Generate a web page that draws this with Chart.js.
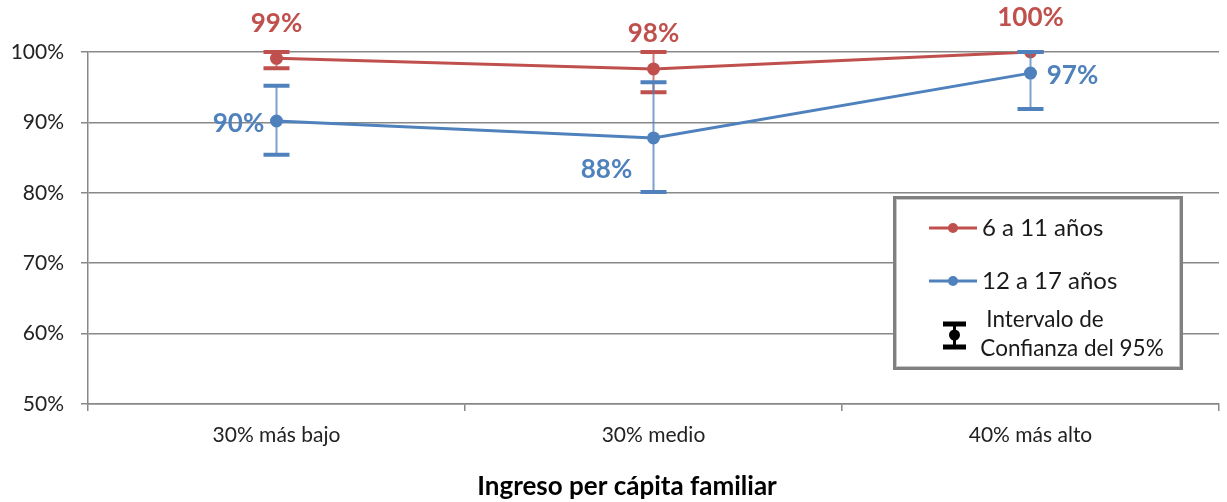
<!DOCTYPE html>
<html><head><meta charset="utf-8">
<script src="https://cdn.jsdelivr.net/npm/chart.js@4/dist/chart.umd.min.js"></script>
<style>html,body{margin:0;padding:0;background:#fff}#wrap{width:1227px;height:502px;position:relative}</style>
</head><body><div id="wrap"><canvas id="c" width="1227" height="502"></canvas></div>
<script>
const categories = ['30% más bajo', '30% medio', '40% más alto'];
const seriesNames = ['6 a 11 años', '12 a 17 años'];
const values611 = [99.1, 97.6, 100];
const low611 = [97.7, 94.3, 100];
const high611 = [100, 100, 100];
const labels611 = ['99%', '98%', '100%'];
const values1217 = [90.2, 87.8, 97.0];
const low1217 = [85.4, 80.1, 91.9];
const high1217 = [95.2, 95.7, 100];
const labels1217 = ['90%', '88%', '97%'];
const yTicks = [50, 60, 70, 80, 90, 100];
const xTitle = 'Ingreso per cápita familiar';
const legendCI = ['Intervalo de', 'Confianza del 95%'];

const RED = '#C0504D', BLUE = '#4F81BD';
const FONT = 'Lato, "Open Sans", sans-serif';

const errLows = [low611, low1217], errHighs = [high611, high1217];
const labelSets = [labels611, labels1217];
const labelPos = [
  [[0, -35, 'center'], [0, -35, 'center'], [0, -34, 'center']],
  [[-38, 3, 'center'], [-47, 32, 'center'], [42, 2, 'center']]
];

const errPlugin = {
  id: 'errbars',
  afterDatasetsDraw(chart) {
    const ctx = chart.ctx, y = chart.scales.y;
    chart.data.datasets.forEach((ds, di) => {
      const meta = chart.getDatasetMeta(di);
      const col = ds.borderColor;
      meta.data.forEach((pt, i) => {
        const yl = y.getPixelForValue(errLows[di][i]);
        const yh = y.getPixelForValue(errHighs[di][i]);
        ctx.save();
        ctx.strokeStyle = col;
        ctx.globalAlpha = 0.75;
        ctx.lineWidth = 2;
        ctx.beginPath(); ctx.moveTo(pt.x, yl); ctx.lineTo(pt.x, yh); ctx.stroke();
        ctx.globalAlpha = 1;
        ctx.lineWidth = 4;
        ctx.beginPath();
        ctx.moveTo(pt.x - 13, yl); ctx.lineTo(pt.x + 13, yl);
        ctx.moveTo(pt.x - 13, yh); ctx.lineTo(pt.x + 13, yh);
        ctx.stroke();
        ctx.restore();
      });
    });
    chart.data.datasets.forEach((ds, di) => {
      const meta = chart.getDatasetMeta(di);
      meta.data.forEach((pt, i) => {
        const p = labelPos[di][i];
        ctx.save();
        ctx.fillStyle = ds.borderColor;
        ctx.font = 'bold 26px ' + FONT;
        ctx.textAlign = p[2];
        ctx.textBaseline = 'middle';
        ctx.fillText(labelSets[di][i], pt.x + p[0], pt.y + p[1]);
        ctx.restore();
      });
    });
  },
  afterDraw(chart) {
    const ctx = chart.ctx;
    ctx.save();
    ctx.fillStyle = '#fff';
    ctx.fillRect(893, 196, 290, 174);
    ctx.strokeStyle = '#808080';
    ctx.lineWidth = 3;
    ctx.strokeRect(894.5, 197.5, 287, 171);
    ctx.strokeStyle = '#c8c8c8';
    ctx.lineWidth = 1;
    ctx.strokeRect(896.5, 199.5, 283, 167);
    const items = [[RED, 228], [BLUE, 281]];
    items.forEach((it, k) => {
      ctx.strokeStyle = it[0]; ctx.fillStyle = it[0];
      ctx.lineWidth = 3;
      ctx.beginPath(); ctx.moveTo(929, it[1]); ctx.lineTo(977, it[1]); ctx.stroke();
      ctx.beginPath(); ctx.arc(953, it[1], 5, 0, Math.PI * 2); ctx.fill();
      ctx.fillStyle = '#1a1a1a';
      ctx.font = '24px ' + FONT;
      ctx.textAlign = 'left'; ctx.textBaseline = 'middle';
      ctx.fillText(seriesNames[k], 982, it[1]);
    });
    ctx.strokeStyle = '#000'; ctx.fillStyle = '#000';
    ctx.lineWidth = 5;
    ctx.beginPath();
    ctx.moveTo(943, 324); ctx.lineTo(966, 324);
    ctx.moveTo(943, 347); ctx.lineTo(966, 347);
    ctx.stroke();
    ctx.lineWidth = 3;
    ctx.beginPath(); ctx.moveTo(954.5, 324); ctx.lineTo(954.5, 347); ctx.stroke();
    ctx.beginPath(); ctx.arc(954.5, 335, 5.5, 0, Math.PI * 2); ctx.fill();
    ctx.fillStyle = '#1a1a1a';
    ctx.font = '22.5px ' + FONT;
    ctx.textAlign = 'center'; ctx.textBaseline = 'middle';
    ctx.fillText(legendCI[0], 1045, 320);
    ctx.fillText(legendCI[1], 1072, 349);
    ctx.fillStyle = '#000';
    ctx.font = 'bold 26px ' + FONT;
    ctx.fillText(xTitle, 627, 487);
    ctx.restore();
  }
};

new Chart(document.getElementById('c'), {
  type: 'line',
  data: {
    labels: categories,
    datasets: [
      { label: seriesNames[0], data: values611, borderColor: RED, backgroundColor: RED, borderWidth: 3, pointRadius: 5, pointHoverRadius: 5, tension: 0 },
      { label: seriesNames[1], data: values1217, borderColor: BLUE, backgroundColor: BLUE, borderWidth: 3, pointRadius: 5, pointHoverRadius: 5, tension: 0 }
    ]
  },
  options: {
    responsive: false,
    animation: false,
    events: [],
    layout: { padding: { top: 52, right: 5, bottom: 0, left: 0 } },
    plugins: { legend: { display: false }, tooltip: { enabled: false } },
    scales: {
      x: {
        offset: true,
        grid: { offset: true, drawOnChartArea: false, color: '#888', tickLength: 7, lineWidth: 1.5 },
        border: { color: '#888', width: 1.5 },
        ticks: { color: '#222', font: { size: 21, family: FONT }, padding: 12 },
        afterFit(s) { s.height = 98; }
      },
      y: {
        min: 50, max: 100,
        afterBuildTicks(s) { s.ticks = yTicks.map(v => ({ value: v })); },
        grid: { color: '#888', tickLength: 7, lineWidth: 1.5 },
        border: { color: '#888', width: 1.5 },
        ticks: { color: '#222', font: { size: 21, family: FONT }, padding: 17, callback: v => v + '%' },
        afterFit(s) { s.width = 88; }
      }
    }
  },
  plugins: [errPlugin]
});
</script></body></html>
